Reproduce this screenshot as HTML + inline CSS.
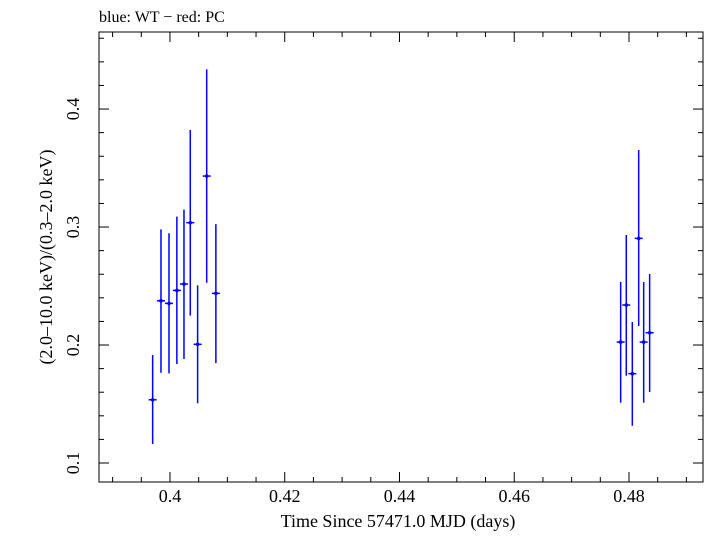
<!DOCTYPE html>
<html><head><meta charset="utf-8"><style>
body{margin:0;background:#fff;width:705px;height:532px;overflow:hidden}
text{font-family:"Liberation Serif",serif;fill:#000}
</style></head><body>
<svg width="705" height="532">
<text x="99" y="22" font-size="16">blue: WT − red: PC</text>
<rect x="99" y="32" width="604" height="450" fill="none" stroke="#000" stroke-width="1"/>
<g id="ticks"></g>
<g id="marks"></g>
<text x="398" y="527" font-size="18" text-anchor="middle">Time Since 57471.0 MJD (days)</text>
<text transform="translate(52,257) rotate(-90)" font-size="18" text-anchor="middle">(2.0–10.0 keV)/(0.3–2.0 keV)</text>
</svg>
<script>
const times=[0.39698,0.39843,0.39983,0.4012,0.40244,0.40354,0.40482,0.4064,0.408,0.47855,0.47953,0.48058,0.48169,0.48256,0.4836];
const ratios=[0.1536,0.2375,0.2353,0.2463,0.2517,0.3037,0.2006,0.3432,0.2438,0.2025,0.2339,0.1757,0.2904,0.2025,0.2104];
const errHigh=[0.1915,0.298,0.2947,0.3088,0.3147,0.3822,0.2506,0.4336,0.3025,0.2534,0.2932,0.2195,0.3653,0.2534,0.2602];
const errLow=[0.1161,0.1765,0.176,0.1839,0.1881,0.2249,0.1506,0.2528,0.1847,0.1511,0.174,0.1316,0.2161,0.1511,0.1602];
const xTicks=[0.4,0.42,0.44,0.46,0.48];
const yTicks=[0.1,0.2,0.3,0.4];
const xMin=0.38763,xMax=0.4929,yMin=0.0839,yMax=0.4653;
const L=99,R=703,T=32,B=482;
const sx=v=>L+(v-xMin)/(xMax-xMin)*(R-L);
const sy=v=>B-(v-yMin)/(yMax-yMin)*(B-T);
const NS="http://www.w3.org/2000/svg";
function mk(tag,at,parent){const e=document.createElementNS(NS,tag);for(const k in at)e.setAttribute(k,at[k]);parent.appendChild(e);return e;}
const tg=document.getElementById('ticks');
for(let v=0.39;v<xMax;v+=0.005){const x=sx(v);const maj=Math.abs(Math.round(v/0.02)*0.02-v)<1e-6;const len=maj?10:5;
 const t1=mk('line',{x1:x,x2:x,y1:B,y2:B-len,stroke:'#000'},tg);
 
 
 const t2=mk('line',{x1:x,x2:x,y1:T,y2:T+len,stroke:'#000'},tg);
 
 }
xTicks.forEach(v=>{const t=mk('text',{x:sx(v),y:B+20,'font-size':18,'text-anchor':'middle'},tg);t.textContent=String(v);
 
 });
for(let v=0.1;v<yMax;v+=0.02){const y=sy(v);const maj=Math.abs(Math.round(v*10)/10-v)<1e-6;const len=maj?10:5;
 const t1=mk('line',{x1:L,x2:L+len,y1:y,y2:y,stroke:'#000'},tg);
 
 
 const t2=mk('line',{x1:R,x2:R-len,y1:y,y2:y,stroke:'#000'},tg);
 
 }
yTicks.forEach(v=>{const t=mk('text',{transform:`translate(${L-20},${sy(v)}) rotate(-90)`,'font-size':18,'text-anchor':'middle'},tg);t.textContent=String(v);
 
 });
const mg=document.getElementById('marks');
times.forEach((t,i)=>{const x=sx(t),y=sy(ratios[i]);
 const g=mk('g',{},mg);
 
 
 mk('line',{x1:x,x2:x,y1:sy(errHigh[i]),y2:sy(errLow[i]),stroke:'#00f','stroke-width':1.5},g);
 mk('line',{x1:x-4,x2:x+4,y1:y,y2:y,stroke:'#00f','stroke-width':1.5},g);
 mk('circle',{cx:x,cy:y,r:1.8,fill:'#00f'},g);});
</script>
</body></html>
